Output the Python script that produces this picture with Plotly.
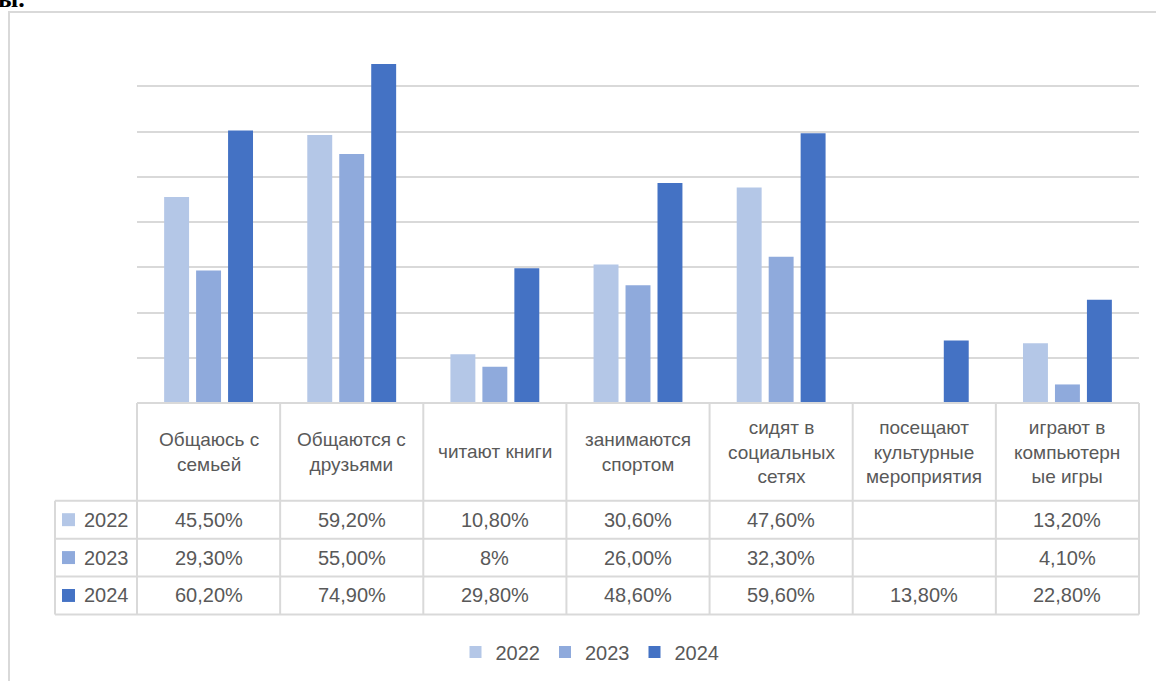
import plotly.graph_objects as go

categories = [
    "Общаюсь с<br>семьей",
    "Общаются с<br>друзьями",
    "читают книги",
    "занимаются<br>спортом",
    "сидят в<br>социальных<br>сетях",
    "посещают<br>культурные<br>мероприятия",
    "играют в<br>компьютерн<br>ые игры",
]
years = ["2022", "2023", "2024"]
values_2022 = ["45,50%", "59,20%", "10,80%", "30,60%", "47,60%", "", "13,20%"]
values_2023 = ["29,30%", "55,00%", "8%", "26,00%", "32,30%", "", "4,10%"]
values_2024 = ["60,20%", "74,90%", "29,80%", "48,60%", "59,60%", "13,80%", "22,80%"]
colors = ["#B4C7E7", "#8FAADC", "#4472C4"]

W, H = 1156, 681
L, R, T, B = 137, 17, 41, 277
PW, PH = W - L - R, H - T - B
TEXT = "#595959"
LINE = "#D9D9D9"
FONT = "Liberation Sans"


def to_num(s):
    if not s:
        return None
    return float(s.replace("%", "").replace(",", "."))


def px(x):
    return (x - L) / PW


def py(y):
    return (H - B - y) / PH


series = [values_2022, values_2023, values_2024]

fig = go.Figure()
for year, vals, col in zip(years, series, colors):
    fig.add_trace(go.Bar(
        x=list(range(len(categories))), y=[to_num(v) for v in vals],
        name=year, marker=dict(color=col, line=dict(width=0)),
        hoverinfo="skip",
    ))

shapes = []
annotations = []
n = len(categories)
cw = PW / n

# outer chart frame
shapes.append(dict(type="rect", xref="paper", yref="paper",
                   x0=px(9), x1=px(W + 20), y0=py(H + 20), y1=py(12),
                   line=dict(color=LINE, width=2)))

# data table
header_top, header_bot = 404, 502
row_h = 38
table_bot = header_bot + row_h * len(years)
hl = [(header_top, L)] + [(header_bot + row_h * i, 55) for i in range(len(years) + 1)]
for y, x0 in hl:
    shapes.append(dict(type="line", xref="paper", yref="paper",
                       x0=px(x0), x1=px(L + PW), y0=py(y), y1=py(y),
                       line=dict(color=LINE, width=2)))
for i in range(n + 1):
    x = L + cw * i
    shapes.append(dict(type="line", xref="paper", yref="paper",
                       x0=px(x), x1=px(x), y0=py(header_top), y1=py(table_bot),
                       line=dict(color=LINE, width=2)))
shapes.append(dict(type="line", xref="paper", yref="paper",
                   x0=px(55), x1=px(55), y0=py(header_bot), y1=py(table_bot),
                   line=dict(color=LINE, width=2)))

for i, cat in enumerate(categories):
    annotations.append(dict(xref="paper", yref="paper", x=px(L + cw * (i + 0.5)),
                            y=py((header_top + header_bot) / 2), text=cat,
                            showarrow=False, xanchor="center", yanchor="middle",
                            font=dict(size=19, color=TEXT, family=FONT)))

for r, (year, vals, col) in enumerate(zip(years, series, colors)):
    yc = header_bot + row_h * (r + 0.5)
    shapes.append(dict(type="rect", xref="paper", yref="paper",
                       x0=px(62), x1=px(75), y0=py(yc + 6.5), y1=py(yc - 6.5),
                       fillcolor=col, line=dict(width=0)))
    annotations.append(dict(xref="paper", yref="paper", x=px(82), y=py(yc),
                            text=year, showarrow=False, xanchor="left", yanchor="middle",
                            font=dict(size=20, color=TEXT, family=FONT)))
    for i, v in enumerate(vals):
        if not v:
            continue
        annotations.append(dict(xref="paper", yref="paper", x=px(L + cw * (i + 0.5)),
                                y=py(yc), text=v, showarrow=False,
                                xanchor="center", yanchor="middle",
                                font=dict(size=20, color=TEXT, family=FONT)))

# fragment of the document text above the chart
annotations.append(dict(xref="paper", yref="paper", x=px(-4), y=py(15),
                        text="<b>ы.</b>", showarrow=False, xanchor="left", yanchor="bottom",
                        font=dict(size=26, color="#000000", family="Liberation Serif")))

fig.update_layout(
    width=W, height=H,
    margin=dict(l=L, r=R, t=T, b=B),
    plot_bgcolor="white", paper_bgcolor="white",
    barmode="group", bargap=0.33, bargroupgap=0.22,
    font=dict(family=FONT, size=20, color=TEXT),
    showlegend=True,
    legend=dict(orientation="h", x=px(590), y=py(652), xanchor="center", yanchor="middle",
                font=dict(size=20, color=TEXT, family=FONT), itemclick=False),
    shapes=shapes, annotations=annotations,
)
fig.update_xaxes(range=[-0.5, n - 0.5], showticklabels=False, showgrid=False,
                 zeroline=False, showline=False, ticks="")
fig.update_yaxes(range=[0, 80], dtick=10, showticklabels=False, showgrid=True,
                 gridcolor=LINE, gridwidth=2, zeroline=False, showline=False, ticks="")

# the page body has an 8px default margin; drop it so the chart sits at 0,0
fig.write_html("out.html", config={"displayModeBar": False},
               post_script="document.body.style.margin='0';")
